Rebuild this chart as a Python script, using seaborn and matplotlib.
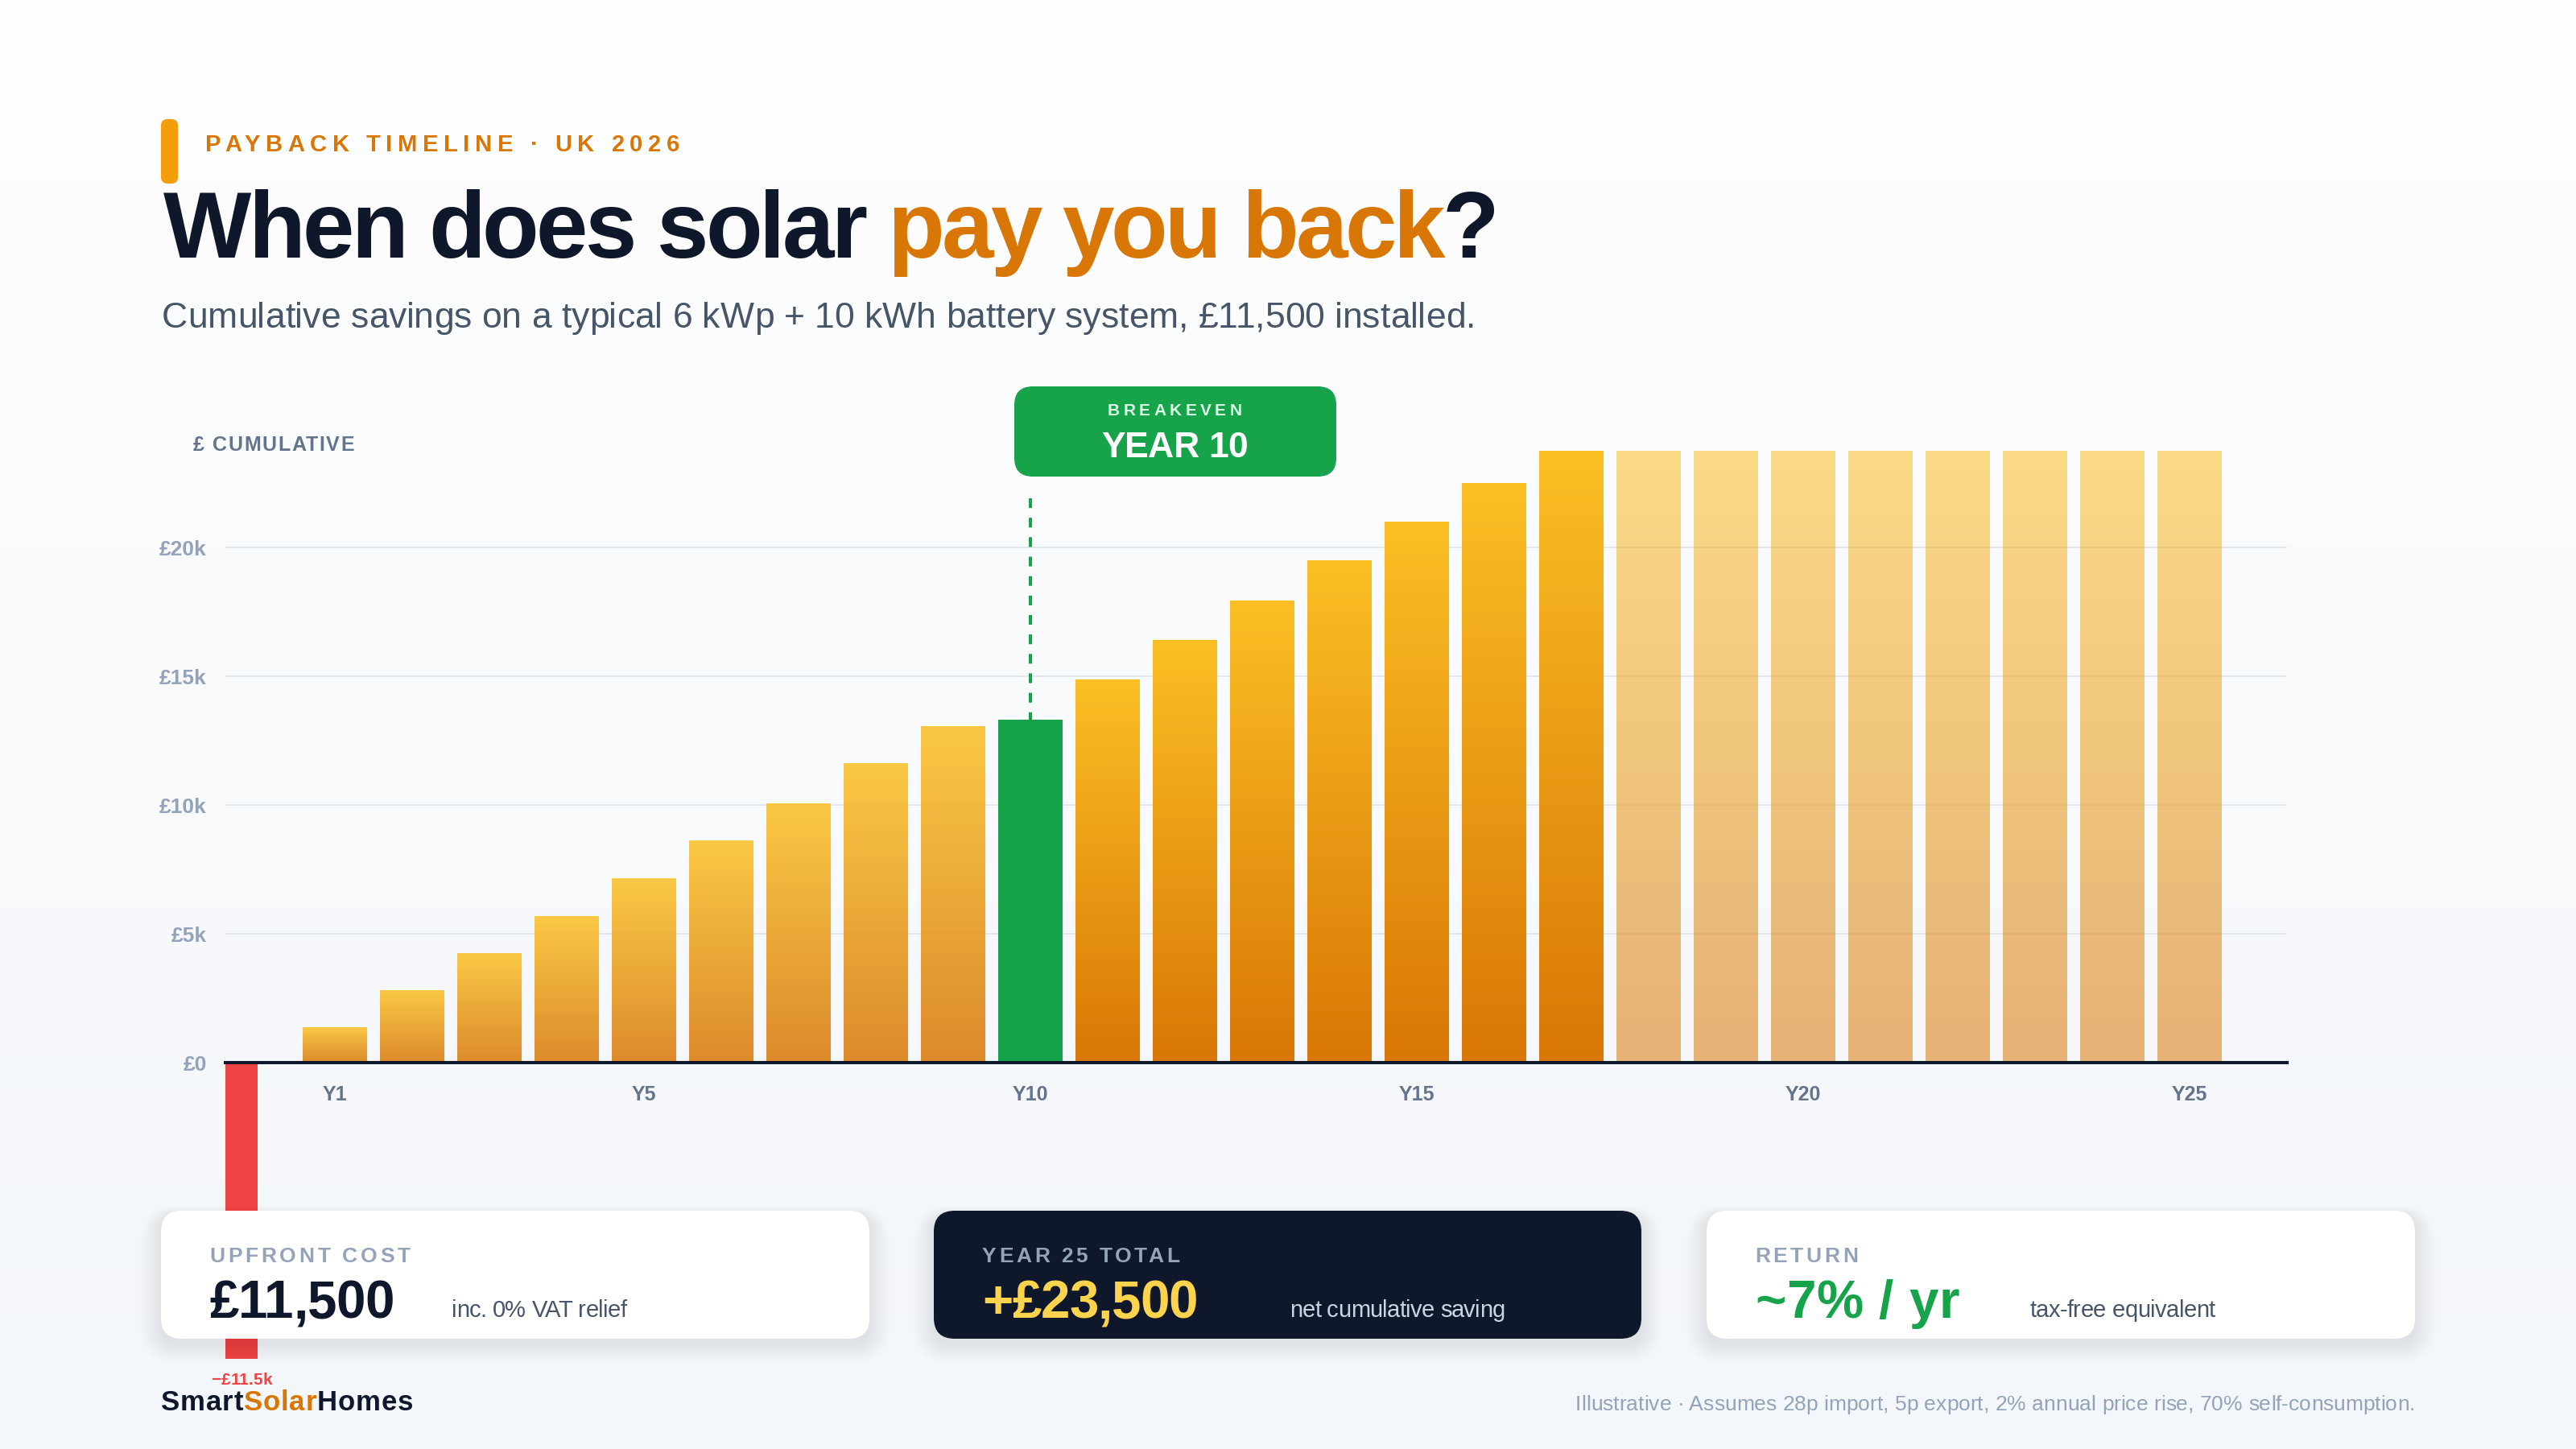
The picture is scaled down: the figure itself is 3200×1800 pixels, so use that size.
import matplotlib
matplotlib.use("Agg")
import matplotlib.pyplot as plt
from matplotlib.colors import LinearSegmentedColormap
from matplotlib.font_manager import FontProperties
from matplotlib.patches import FancyBboxPatch
import numpy as np
import pandas as pd
import seaborn as sns

# --- data (values in £k, cumulative) ---
years = [f"Y{i}" for i in range(26)]
cumulative_k = [-11.5, 1.37, 2.81, 4.25, 5.66, 7.13, 8.60, 10.06, 11.60, 13.06,
                13.30, 14.85, 16.38, 17.91, 19.50, 20.97, 22.50, 23.75,
                23.75, 23.75, 23.75, 23.75, 23.75, 23.75, 23.75, 23.75]
y_ticks = [0, 5, 10, 15, 20]
y_tick_labels = ["£0", "£5k", "£10k", "£15k", "£20k"]
x_tick_years = [1, 5, 10, 15, 20, 25]
breakeven_year = 10
last_growth_year = 17

card_labels = ["UPFRONT COST", "YEAR 25 TOTAL", "RETURN"]
card_values = ["£11,500", "+£23,500", "~7% / yr"]
card_notes = ["inc. 0% VAT relief", "net cumulative saving", "tax-free equivalent"]

sns.set_theme(style="white")
FONT = ["Liberation Sans", "DejaVu Sans"]
plt.rcParams["font.family"] = FONT

W, H = 3200, 1800
fig = plt.figure(figsize=(16, 9), dpi=200)
renderer = fig.canvas.get_renderer()


def frac(x0, y0, x1, y1):
    # pixel box (top-left origin) -> figure fraction rect
    return [x0 / W, 1 - y1 / H, (x1 - x0) / W, (y1 - y0) / H]


# soft background
bg = fig.add_axes([0, 0, 1, 1], zorder=-10)
bg_cmap = LinearSegmentedColormap.from_list("bg", ["#FEFEFE", "#F3F6FA"])
bg.imshow(np.linspace(0, 1, 256).reshape(-1, 1), cmap=bg_cmap, aspect="auto")
bg.axis("off")

# --- main bar chart ---
ax = fig.add_axes(frac(280, 552, 2841, 1704), zorder=1)
ax.set_facecolor("none")
df = pd.DataFrame({"year": years, "saving": cumulative_k})
sns.barplot(data=df, x="year", y="saving", order=years, width=0.833,
            color="#FBBF24", errorbar=None, ax=ax, zorder=2)

grad = np.linspace(0, 1, 128).reshape(-1, 1)
bar_cmap = LinearSegmentedColormap.from_list("bar", ["#D97706", "#FBBF24"])
for i, patch in enumerate(ax.patches):
    patch.set_edgecolor("none")
    if cumulative_k[i] < 0:
        patch.set_facecolor("#EF4444")
        patch.set_width(patch.get_width() / 2)
        continue
    if i == breakeven_year:
        patch.set_facecolor("#16A34A")
        continue
    alpha = 0.85 if i < breakeven_year else (1.0 if i <= last_growth_year else 0.55)
    x0, w, h = patch.get_x(), patch.get_width(), patch.get_height()
    ax.imshow(grad, origin="lower", extent=[x0, x0 + w, 0, h], cmap=bar_cmap,
              alpha=alpha, aspect="auto", zorder=2, interpolation="bilinear")
    patch.set_visible(False)

ax.plot([breakeven_year, breakeven_year], [21.9, cumulative_k[breakeven_year]],
        color="#16A34A", lw=1.45, dashes=(3, 3), zorder=3)

for s in ["top", "right", "left"]:
    ax.spines[s].set_visible(False)
ax.spines["bottom"].set_position(("data", 0))
ax.spines["bottom"].set_color("#0F172A")
ax.spines["bottom"].set_linewidth(1.45)
ax.spines["bottom"].set_zorder(4)
ax.set_xlim(-0.4167, 26.26)
ax.set_ylim(-12, 24)
ax.set_yticks(y_ticks, y_tick_labels)
ax.set_xticks(x_tick_years, [years[i] for i in x_tick_years])
ax.tick_params(axis="both", length=0)
ax.tick_params(axis="y", pad=8.3, labelsize=9.5, labelcolor="#94A3B8")
ax.tick_params(axis="x", pad=10, labelsize=9, labelcolor="#64748B")
for lab in ax.get_xticklabels() + ax.get_yticklabels():
    lab.set_fontweight("bold")
ax.grid(axis="y", color="#E2E8F0", linewidth=0.75)
ax.set_axisbelow(True)
ax.set_xlabel("")
ax.set_ylabel("")

# --- overlay in pixel coordinates for header, cards, footer ---
ov = fig.add_axes([0, 0, 1, 1], zorder=5)
ov.set_xlim(0, W)
ov.set_ylim(H, 0)
ov.axis("off")


def ink_width(s, fp):
    return renderer.get_text_width_height_descent(s, fp, ismath=False)[0]


def draw(x, y, parts, size, weight="normal", width=None, ha="left"):
    fp = FontProperties(family=FONT, size=size, weight=weight)
    s = "".join(t for t, _ in parts)
    cols = [c for t, c in parts for _ in t]
    natural = ink_width(s, fp)
    track = 0.0 if width is None else (width - natural) / (len(s) - 1)
    total = natural + track * (len(s) - 1)
    left = {"left": x, "center": x - total / 2, "right": x - total}[ha]
    for i, ch in enumerate(s):
        if ch == " ":
            continue
        cx = left + ink_width(s[:i + 1], fp) - ink_width(ch, fp) + i * track
        ov.text(cx, y, ch, fontproperties=fp, color=cols[i], ha="left", va="baseline")


def rbox(x, y, w, h, r, color, alpha=1.0, z=1):
    ov.add_patch(FancyBboxPatch((x, y), w, h, boxstyle=f"round,pad=0,rounding_size={r}",
                                facecolor=color, edgecolor="none", alpha=alpha, zorder=z))


# header
rbox(200, 148, 21, 80, 8, "#F59E0B")
draw(255, 188, [("PAYBACK TIMELINE · UK 2026", "#D97706")], 10.5, "bold", width=589)
draw(203, 320, [("When does solar ", "#0F172A"), ("pay you back", "#D97706"), ("?", "#0F172A")],
     41.7, "bold", width=1659)
draw(201, 407, [("Cumulative savings on a typical 6 kWp + 10 kWh battery system, £11,500 installed.",
                 "#475569")], 16, width=1632)
draw(240, 560, [("£ CUMULATIVE", "#64748B")], 9, "bold", width=200)

# breakeven badge
rbox(1260, 480, 400, 112, 23, "#16A34A")
draw(1459, 516, [("BREAKEVEN", "#DCFCE7")], 7.5, "bold", width=167, ha="center")
draw(1459, 568, [("YEAR 10", "white")], 16, "bold", width=182, ha="center")

# cards
card_x = [(200, 1080), (1160, 2039), (2120, 3000)]
card_fill = ["white", "#0F172A", "white"]
value_colors = ["#0F172A", "#FCD34D", "#16A34A"]
note_colors = ["#475569", "#CBD5E1", "#475569"]
label_w = [250, 245, 128]
value_w = [230, 268, 254]
note_w = [218, 268, 231]
note_x = [561, 1602, 2521]
top, bottom = 1504, 1663
for k, (x0, x1) in enumerate(card_x):
    for j in range(1, 11):
        rbox(x0 - j * 2.5, top + 6 - j * 1.2, x1 - x0 + j * 5, bottom - top + j * 3.6,
             26 + j * 2, "#0F172A", alpha=0.007, z=2)
    rbox(x0, top, x1 - x0, bottom - top, 26, card_fill[k], z=3)
    tx = x0 + 60
    draw(tx, 1568, [(card_labels[k], "#94A3B8")], 9.5, "bold", width=label_w[k])
    draw(tx, 1637, [(card_values[k], value_colors[k])], 23.6, "bold", width=value_w[k])
    draw(note_x[k], 1636, [(card_notes[k], note_colors[k])], 10.5, width=note_w[k])

# footer
draw(300, 1720, [("−£11.5k", "#EF4444")], 7.5, "bold", ha="center")
draw(200, 1752, [("Smart", "#0F172A"), ("Solar", "#D97706"), ("Homes", "#0F172A")],
     12.5, "bold", width=313)
draw(3000, 1752, [("Illustrative · Assumes 28p import, 5p export, 2% annual price rise, "
                   "70% self-consumption.", "#94A3B8")], 9.5, width=1043, ha="right")

fig.savefig("out.png", dpi=200)
